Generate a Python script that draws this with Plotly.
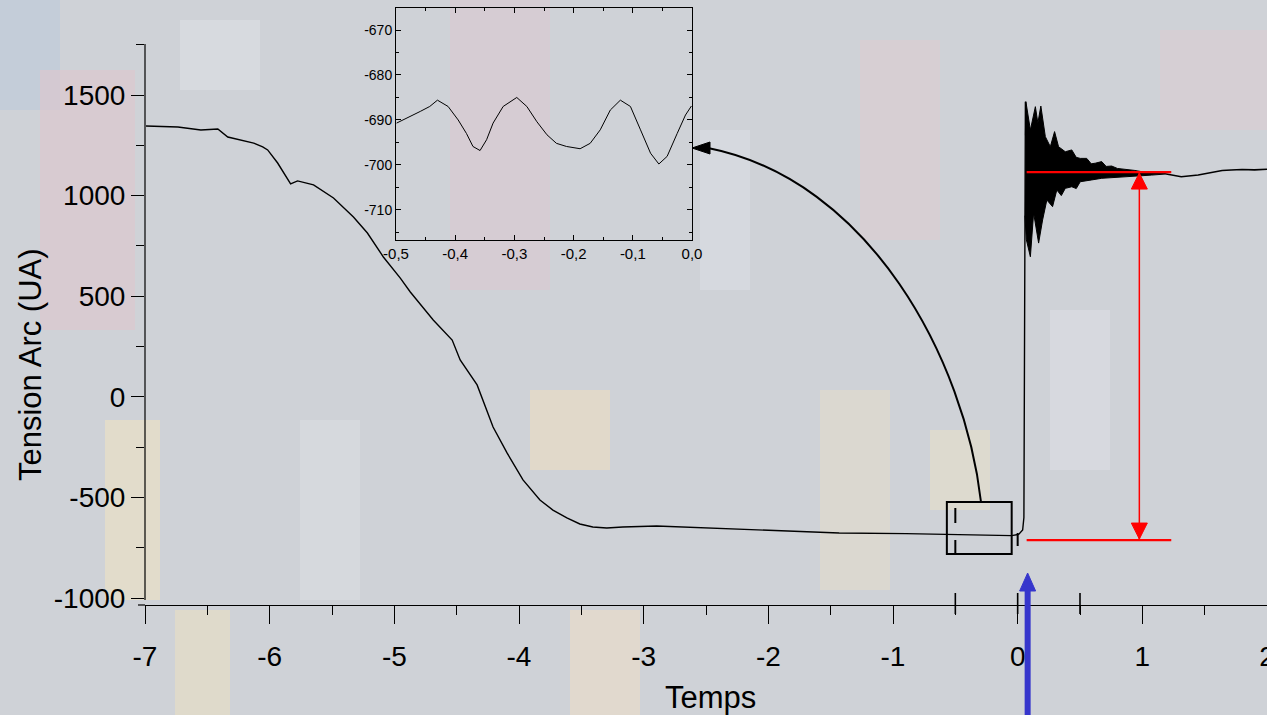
import plotly.graph_objects as go

# ---------------- data ----------------
t_main = [-6.992, -6.736, -6.552, -6.472, -6.416, -6.336, -6.232, -6.128, -6.056, -6.016,
          -5.936, -5.888, -5.832, -5.776, -5.648, -5.488, -5.328, -5.216, -5.088, -4.952,
          -4.872, -4.688, -4.536, -4.472, -4.336, -4.208, -4.096, -3.968, -3.832, -3.728,
          -3.616, -3.512, -3.408, -3.296, -3.168, -2.896, -2.496, -1.968, -1.432, -0.896,
          -0.496, -0.048, 0.008, 0.040, 0.050, 0.062]
v_main = [1346, 1341, 1326, 1331, 1331, 1291, 1276, 1261, 1242, 1227,
          1162, 1117, 1058, 1073, 1053, 988, 894, 814, 695, 590,
          521, 382, 282, 183, 59, -150, -279, -413, -513, -563,
          -602, -632, -647, -652, -647, -642, -652, -667, -677, -680,
          -686, -690, -684, -662, -600, 1467]

# envelope of the damped oscillation after the arc re-ignition
t_osc_upper = [0.062, 0.066, 0.102, 0.142, 0.162, 0.186, 0.222, 0.262, 0.296, 0.328,
               0.382, 0.434, 0.470, 0.502, 0.554, 0.590, 0.622, 0.674, 0.710, 0.754,
               0.800, 0.888, 0.940, 0.994, 1.060, 1.182]
v_osc_upper = [1300, 1467, 1326, 1442, 1361, 1445, 1293, 1243, 1318, 1243,
               1218, 1227, 1190, 1185, 1185, 1158, 1161, 1169, 1145, 1147,
               1135, 1131, 1125, 1119, 1114, 1111]
t_osc_lower = [0.058, 0.070, 0.102, 0.128, 0.168, 0.200, 0.234, 0.280, 0.314, 0.350,
               0.382, 0.434, 0.470, 0.502, 0.594, 0.674, 0.782, 0.914, 1.074, 1.182]
v_osc_lower = [900, 780, 696, 914, 764, 879, 978, 945, 1028, 1000,
               1036, 1044, 1035, 1069, 1078, 1086, 1091, 1097, 1102, 1107]

t_tail = [1.182, 1.312, 1.448, 1.582, 1.640, 1.712, 1.800, 1.900, 2.000]
v_tail = [1109, 1094, 1102, 1119, 1125, 1127, 1130, 1128, 1131]

# zoom on the window [-0.5, 0]
inset_t = [-0.499, -0.476, -0.459, -0.443, -0.430, -0.412, -0.395, -0.381, -0.370, -0.358,
           -0.347, -0.336, -0.319, -0.296, -0.279, -0.262, -0.245, -0.229, -0.212, -0.189,
           -0.172, -0.155, -0.138, -0.121, -0.104, -0.087, -0.070, -0.056, -0.042, -0.025,
           -0.011, -0.001]
inset_v = [-690.7, -689.3, -688.1, -687.0, -685.6, -687.0, -690.0, -693.0, -695.9, -696.8,
           -694.4, -690.7, -687.0, -685.0, -687.0, -690.4, -693.3, -695.2, -695.9, -696.4,
           -695.2, -692.2, -687.8, -685.6, -687.0, -692.2, -697.4, -699.8, -698.1, -693.0,
           -688.9, -686.9]

x_tickvals = [-7, -6, -5, -4, -3, -2, -1, 0, 1, 2]
x_ticktext = ["-7", "-6", "-5", "-4", "-3", "-2", "-1", "0", "1", "2"]
y_tickvals = [-1000, -500, 0, 500, 1000, 1500]
y_ticktext = ["-1000", "-500", "0", "500", "1000", "1500"]
inset_xtickvals = [-0.5, -0.4, -0.3, -0.2, -0.1, 0.0]
inset_xticktext = ["-0,5", "-0,4", "-0,3", "-0,2", "-0,1", "0,0"]
inset_ytickvals = [-710, -700, -690, -680, -670]
inset_yticktext = ["-710", "-700", "-690", "-680", "-670"]

level_high = 1117      # red upper level
level_low = -712       # red lower level
x_measure = 0.976      # red double arrow position
red_span = [0.072, 1.232]
x_trigger = 0.08       # blue arrow position
zoom_window = [-0.5, 0.0]

# ---------------- layout geometry ----------------
W, H = 1267, 715
ML, MR, MT, MB = 145, 0, 8, 110
PW, PH = W - ML - MR, H - MT - MB
X_RANGE = [-7.0, 2.0]
PX_PER_X = PW / (X_RANGE[1] - X_RANGE[0])
PX_PER_Y = 100.6 / 500.0
Y_REF_PX = 95   # pixel row of 1500
Y_RANGE = [1500 - (H - MB - Y_REF_PX) / PX_PER_Y, 1500 + (Y_REF_PX - MT) / PX_PER_Y]


def ppx(px):
    return (px - ML) / PW


def ppy(py):
    return (H - MB - py) / PH


def x2p(x):
    return ML + (x - X_RANGE[0]) * PX_PER_X


def y2p(y):
    return MT + (Y_RANGE[1] - y) * PX_PER_Y


def tri_path(pts):
    return "M {},{} L {},{} L {},{} Z".format(*[v for p in pts for v in (ppx(p[0]), ppy(p[1]))])


FONT = "Arial, Liberation Sans, sans-serif"

fig = go.Figure()

fig.add_trace(go.Scatter(x=t_main, y=v_main, mode="lines",
                         line=dict(color="black", width=1.4), showlegend=False))
fig.add_trace(go.Scatter(x=t_osc_upper + t_osc_lower[::-1], y=v_osc_upper + v_osc_lower[::-1],
                         mode="lines", fill="toself", fillcolor="black",
                         line=dict(color="black", width=1), showlegend=False))
fig.add_trace(go.Scatter(x=t_tail, y=v_tail, mode="lines",
                         line=dict(color="black", width=1.6), showlegend=False))
fig.add_trace(go.Scatter(x=inset_t, y=inset_v, mode="lines", xaxis="x2", yaxis="y2",
                         line=dict(color="black", width=1), showlegend=False))

shapes = []

# background mosaic (decorative)
bg_blocks = [
    (0, 0, 60, 110, "#bfcbda"), (40, 70, 135, 330, "#dcc8cf"), (105, 420, 160, 600, "#e9dfc6"),
    (450, 0, 550, 290, "#d9c9d2"), (530, 390, 610, 470, "#e8dcc4"), (570, 610, 640, 715, "#e8dccb"),
    (860, 40, 940, 240, "#dacdd2"), (175, 610, 230, 715, "#e6ddc6"), (1160, 30, 1267, 130, "#d8cdd3"),
    (180, 20, 260, 90, "#dadde3"), (700, 130, 750, 290, "#d9dce2"), (1050, 310, 1110, 470, "#dadce3"),
    (820, 390, 890, 590, "#e0dacd"), (930, 430, 990, 510, "#e2ddcc"), (300, 420, 360, 600, "#d8dbe0"),
]
for x0, y0, x1, y1, c in bg_blocks:
    shapes.append(dict(type="rect", xref="paper", yref="paper", x0=ppx(x0), x1=ppx(x1),
                       y0=ppy(y1), y1=ppy(y0), fillcolor=c, opacity=0.7, line=dict(width=0),
                       layer="below"))

# main y axis line (stops at 1750) and left extension of x axis line
shapes.append(dict(type="line", xref="paper", yref="paper", x0=0, x1=0,
                   y0=ppy(600), y1=ppy(44), line=dict(color="black", width=1.2)))
shapes.append(dict(type="line", xref="paper", yref="paper", x0=ppx(138), x1=0,
                   y0=0, y1=0, line=dict(color="black", width=1.2)))

# zoom window box and markers
shapes.append(dict(type="rect", xref="x", yref="y", x0=-0.568, x1=-0.048, y0=-781, y1=-523,
                   line=dict(color="black", width=2)))
for (xv, a, b) in [(-0.5, 508, 523), (-0.5, 540, 553), (0.0, 533, 546)]:
    px = x2p(xv)
    shapes.append(dict(type="line", xref="paper", yref="paper", x0=ppx(px), x1=ppx(px),
                       y0=ppy(b), y1=ppy(a), line=dict(color="black", width=2)))
for xv in [-0.5, 0.0, 0.5]:
    px = x2p(xv)
    shapes.append(dict(type="line", xref="paper", yref="paper", x0=ppx(px), x1=ppx(px),
                       y0=ppy(614), y1=ppy(593), line=dict(color="black", width=1.6)))

# curved arrow from box to the inset
P = [(981, 502), (965, 360), (870, 180), (708, 148)]
path = "M {},{} C {},{} {},{} {},{}".format(*[v for p in P for v in (ppx(p[0]), ppy(p[1]))])
shapes.append(dict(type="path", xref="paper", yref="paper", path=path,
                   line=dict(color="black", width=2)))
shapes.append(dict(type="path", xref="paper", yref="paper",
                   path=tri_path([(692, 148), (710, 142), (710, 154)]),
                   fillcolor="black", line=dict(color="black", width=1)))

# red measurement
RED = "#ff0000"
for lv in (level_high, level_low):
    shapes.append(dict(type="line", xref="x", yref="y", x0=red_span[0], x1=red_span[1],
                       y0=lv, y1=lv, line=dict(color=RED, width=2.2)))
shapes.append(dict(type="line", xref="x", yref="y", x0=x_measure, x1=x_measure,
                   y0=level_low, y1=level_high, line=dict(color=RED, width=1.5)))
mx = x2p(x_measure)
for tip, base in [(y2p(level_high) + 1, y2p(level_high) + 17), (y2p(level_low) - 1, y2p(level_low) - 17)]:
    shapes.append(dict(type="path", xref="paper", yref="paper",
                       path=tri_path([(mx, tip), (mx - 8, base), (mx + 8, base)]),
                       fillcolor=RED, line=dict(color=RED, width=1)))

# blue trigger arrow
BLUE = "#3636cc"
bx = x2p(x_trigger)
shapes.append(dict(type="line", xref="paper", yref="paper", x0=ppx(bx), x1=ppx(bx),
                   y0=ppy(715), y1=ppy(588), line=dict(color=BLUE, width=6)))
shapes.append(dict(type="path", xref="paper", yref="paper",
                   path=tri_path([(bx, 573), (bx - 8, 591), (bx + 8, 591)]),
                   fillcolor=BLUE, line=dict(color=BLUE, width=1)))

annotations = [
    dict(text="Tension Arc (UA)", xref="paper", yref="paper", x=ppx(30), y=ppy(365),
         textangle=-90, showarrow=False, xanchor="center", yanchor="middle",
         font=dict(family=FONT, size=31, color="black")),
    dict(text="Temps", xref="paper", yref="paper", x=ppx(710), y=ppy(697),
         showarrow=False, xanchor="center", yanchor="middle",
         font=dict(family=FONT, size=31, color="black")),
]

inset_x0, inset_x1, inset_ytop, inset_ybot = 396, 692, 8, 240

fig.update_layout(
    width=W, height=H,
    margin=dict(l=ML, r=MR, t=MT, b=MB, pad=0),
    paper_bgcolor="#cfd2d7",
    plot_bgcolor="rgba(0,0,0,0)",
    font=dict(family=FONT, color="black"),
    showlegend=False,
    shapes=shapes,
    annotations=annotations,
    xaxis=dict(range=X_RANGE, automargin=False, showgrid=False, zeroline=False, showline=True,
               linecolor="black", linewidth=1.2, ticks="outside", ticklen=18, tickwidth=1.2,
               tickcolor="black", tickmode="array", tickvals=x_tickvals, ticktext=x_ticktext,
               tickfont=dict(size=28, family=FONT), ticklabelstandoff=8,
               ticklabeloverflow="allow",
               minor=dict(ticks="outside", ticklen=9, tickwidth=1.2, tickcolor="black",
                          tickmode="linear", dtick=0.5, tick0=0),
               domain=[0, 1]),
    yaxis=dict(range=Y_RANGE, automargin=False, showgrid=False, zeroline=False, showline=False,
               ticks="outside", ticklen=13, tickwidth=1.2, tickcolor="black",
               tickmode="array", tickvals=y_tickvals, ticktext=y_ticktext,
               tickfont=dict(size=28, family=FONT),
               minor=dict(ticks="outside", ticklen=8, tickwidth=1.2, tickcolor="black",
                          tickmode="linear", dtick=250, tick0=0),
               domain=[0, 1]),
    xaxis2=dict(range=zoom_window, anchor="y2", automargin=False,
                domain=[ppx(inset_x0), ppx(inset_x1)],
                showgrid=False, zeroline=False, showline=True, mirror="ticks",
                linecolor="black", linewidth=1, ticks="inside", ticklen=5, tickcolor="black",
                tickmode="array", tickvals=inset_xtickvals, ticktext=inset_xticktext,
                tickfont=dict(size=15, family=FONT), ticklabeloverflow="allow",
                minor=dict(ticks="inside", ticklen=3, tickcolor="black",
                           tickmode="linear", dtick=0.05, tick0=0)),
    yaxis2=dict(range=[-716.7, -665.1], anchor="x2", automargin=False,
                domain=[ppy(inset_ybot), ppy(inset_ytop)],
                showgrid=False, zeroline=False, showline=True, mirror="ticks",
                linecolor="black", linewidth=1, ticks="inside", ticklen=5, tickcolor="black",
                tickmode="array", tickvals=inset_ytickvals, ticktext=inset_yticktext,
                tickfont=dict(size=14, family=FONT), ticklabeloverflow="allow",
                minor=dict(ticks="inside", ticklen=3, tickcolor="black",
                           tickmode="linear", dtick=5, tick0=0)),
)

fig.write_html("out.html")
